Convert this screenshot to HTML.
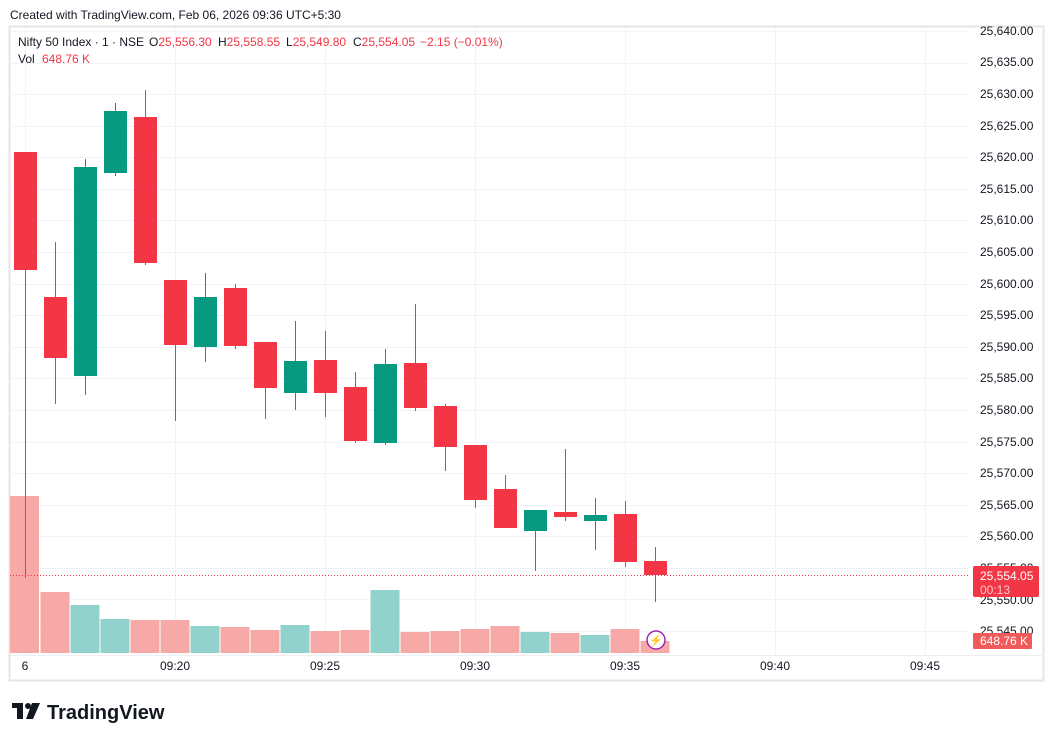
<!DOCTYPE html>
<html><head><meta charset="utf-8"><style>
body{margin:0;background:#fff;font-family:"Liberation Sans",sans-serif;}
svg{display:block}
</style></head><body>
<svg id="s" width="1054" height="741" xmlns="http://www.w3.org/2000/svg" font-family="Liberation Sans, sans-serif">
<rect width="1054" height="741" fill="#fff"/>
<text x="10" y="19" font-size="12" fill="#131722">Created with TradingView.com, Feb 06, 2026 09:36 UTC+5:30</text>
<rect x="9.5" y="26.5" width="1034" height="654" fill="none" stroke="#e6e6e6" stroke-width="2"/>
<g id="grid" stroke="#f0f3fa" stroke-width="1"></g>
<g id="vol"></g>
<g id="c"></g>
<line x1="10" y1="575.5" x2="968" y2="575.5" stroke="#f23645" stroke-dasharray="1,2"/>
<g font-size="12" fill="#131722">
<text y="46"><tspan x="18">Nifty 50 Index · 1 · NSE</tspan><tspan x="149">O</tspan><tspan fill="#f23645">25,556.30</tspan><tspan x="218">H</tspan><tspan fill="#f23645">25,558.55</tspan><tspan x="286">L</tspan><tspan fill="#f23645">25,549.80</tspan><tspan x="353">C</tspan><tspan fill="#f23645">25,554.05</tspan><tspan x="420" fill="#f23645">−2.15 (−0.01%)</tspan></text>
<text y="63"><tspan x="18">Vol</tspan><tspan x="42" fill="#f23645">648.76 K</tspan></text>
</g>
<g font-size="12" fill="#131722" id="pl">
<text x="980" y="35">25,640.00</text><text x="980" y="66">25,635.00</text><text x="980" y="98">25,630.00</text><text x="980" y="130">25,625.00</text><text x="980" y="161">25,620.00</text><text x="980" y="193">25,615.00</text><text x="980" y="224">25,610.00</text><text x="980" y="256">25,605.00</text><text x="980" y="288">25,600.00</text><text x="980" y="319">25,595.00</text><text x="980" y="351">25,590.00</text><text x="980" y="382">25,585.00</text><text x="980" y="414">25,580.00</text><text x="980" y="446">25,575.00</text><text x="980" y="477">25,570.00</text><text x="980" y="509">25,565.00</text><text x="980" y="540">25,560.00</text><text x="980" y="572">25,555.00</text><text x="980" y="604">25,550.00</text><text x="980" y="635">25,545.00</text>
</g>
<rect x="973" y="566" width="66" height="31" rx="2" fill="#f23645"/>
<text x="980" y="580" font-size="12" fill="#fff">25,554.05</text>
<text x="980" y="594" font-size="12" fill="#fbc6ca">00:13</text>
<rect x="973" y="633" width="59" height="16" rx="1" fill="#f05a5a"/>
<text x="980" y="645" font-size="12" fill="#fff">648.76 K</text>
<g font-size="12" fill="#131722" text-anchor="middle">
<text x="25" y="670">6</text><text x="175" y="670">09:20</text><text x="325" y="670">09:25</text><text x="475" y="670">09:30</text><text x="625" y="670">09:35</text><text x="775" y="670">09:40</text><text x="925" y="670">09:45</text>
</g>
<circle cx="656" cy="640" r="9" fill="#fff" stroke="#9c27b0" stroke-width="1.5"/>
<text x="656" y="644" font-size="11" fill="#9c27b0" text-anchor="middle">⚡</text>
<g fill="#131722"><rect x="12" y="703" width="11" height="5"/><rect x="17" y="703" width="6" height="16"/><circle cx="28" cy="706" r="3"/><polygon points="32,703 40,703 33,719 26,719"/></g>
<text x="47" y="719" font-size="20" font-weight="bold" fill="#131722">TradingView</text>
</svg>
<script>
const ns="http://www.w3.org/2000/svg";
function el(p,t,a){const e=document.createElementNS(ns,t);for(const k in a)e.setAttribute(k,a[k]);p.appendChild(e);return e;}
const g=document.getElementById('grid');
for(let i=0;i<20;i++){const y=Math.round(31+i*31.58)+.5;el(g,'line',{x1:10,x2:968,y1:y,y2:y});}
[25,175,325,475,625,775,925].forEach(x=>el(g,'line',{x1:x+.5,x2:x+.5,y1:27,y2:655}));
el(g,'line',{x1:10,x2:1044,y1:655.5,y2:655.5,stroke:'#eeeeee'});
const R='#f23645',G='#089981';
const C=[[152,270,152,578,R],[297,358,242,404,R],[167,376,159,395,G],[111,173,103,176,G],[117,263,90,265,R],[280,345,280,421,R],[297,347,273,362,G],[288,346,284,349,R],[342,388,342,419,R],[361,393,321,410,G],[360,393,331,417,R],[387,441,372,443,R],[364,443,349,445,G],[363,408,304,411,R],[406,447,404,471,R],[445,500,445,508,R],[489,528,475,528,R],[510,531,510,571,G],[512,517,449,521,R],[515,521,498,550,G],[514,562,501,567,R],[561,575,547,602,R]];
const V=[496,592,605,619,620,620,626,627,630,625,631,630,590,632,631,629,626,632,633,635,629,641];
const vg=document.getElementById('vol'),cg=document.getElementById('c');
C.forEach((c,i)=>{const x=25+30*i;
 el(vg,'rect',{x:x-15+(i?0.5:0),y:V[i],width:29,height:653-V[i],fill:c[4]==R?'#f7a9a7':'#92d2cc'});
 el(cg,'rect',{x:x,y:c[2],width:1,height:c[3]-c[2],fill:c[4]});
 el(cg,'rect',{x:x-11,y:c[0],width:23,height:Math.max(2,c[1]-c[0]),fill:c[4]});
});
</script>
</body></html>
